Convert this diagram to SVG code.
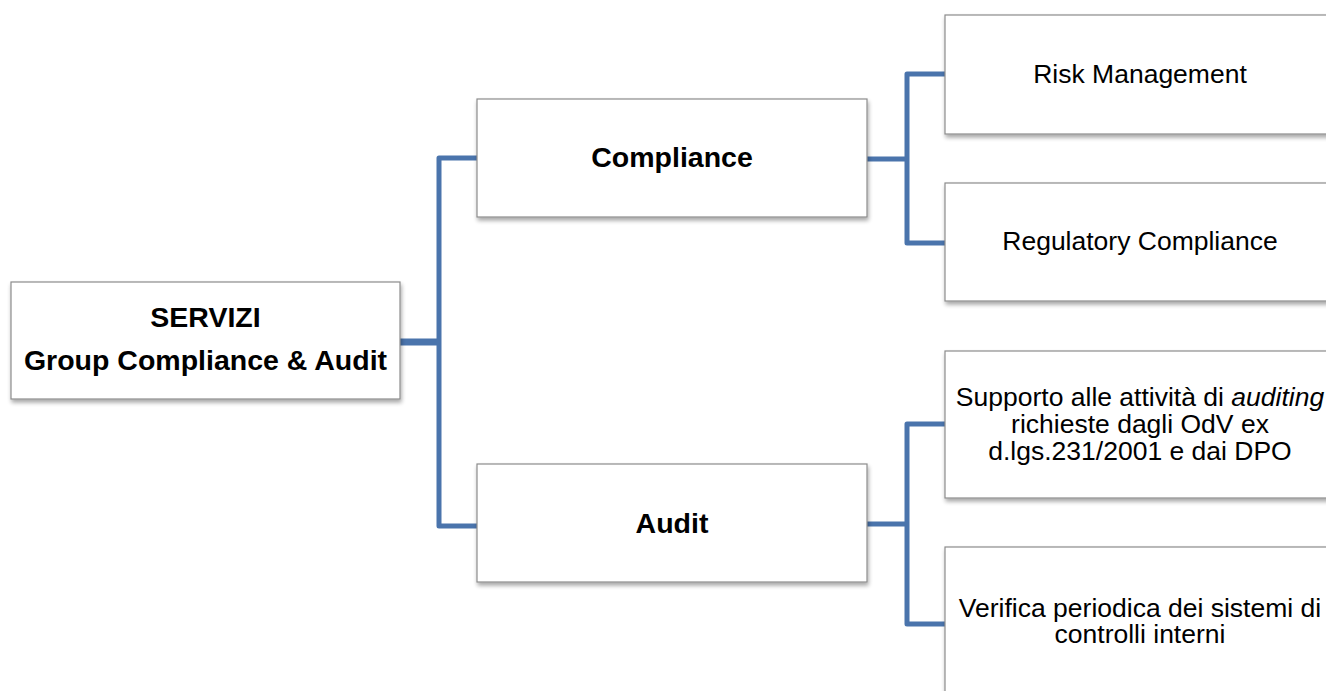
<svg xmlns="http://www.w3.org/2000/svg" width="1326" height="691" viewBox="0 0 1326 691">
  <style>
    .box { fill: #ffffff; stroke: #8c8c8c; stroke-width: 1.2; filter: url(#shadow); }
    .conn { fill: none; stroke: #4a74ac; stroke-width: 5; stroke-linejoin: round; stroke-linecap: butt; }
    .bold { font-family: "Liberation Sans", Arial, sans-serif; font-weight: bold; font-size: 28.5px; fill: #000; text-anchor: middle; }
    .reg { font-family: "Liberation Sans", Arial, sans-serif; font-size: 26.5px; fill: #000; text-anchor: middle; }
  </style>
  <defs>
    <filter id="shadow" x="-5%" y="-10%" width="115%" height="130%">
      <feGaussianBlur in="SourceAlpha" stdDeviation="2"/>
      <feOffset dx="1" dy="3" result="off"/>
      <feComponentTransfer><feFuncA type="linear" slope="0.35"/></feComponentTransfer>
      <feMerge><feMergeNode/><feMergeNode in="SourceGraphic"/></feMerge>
    </filter>
  </defs>
  <rect width="1326" height="691" fill="#ffffff"/>

  <g id="connectors">
    <path class="conn" d="M400 342 H440" style="stroke-width:7"/>
    <path class="conn" d="M477 158 H439 V526 H477"/>
    <path class="conn" d="M867 159 H907"/>
    <path class="conn" d="M945 74 H907 V243 H945"/>
    <path class="conn" d="M867 524 H907"/>
    <path class="conn" d="M945 424 H907 V624 H945"/>
  </g>

  <g id="node-servizi">
    <rect class="box" x="11" y="282" width="389" height="117"/>
    <text class="bold" x="205.5" y="327">SERVIZI</text>
    <text class="bold" x="205.5" y="370">Group Compliance &amp; Audit</text>
  </g>

  <g id="node-compliance">
    <rect class="box" x="477" y="99" width="390" height="118"/>
    <text class="bold" x="672" y="167">Compliance</text>
  </g>

  <g id="node-audit">
    <rect class="box" x="477" y="464" width="390" height="118"/>
    <text class="bold" x="672" y="533">Audit</text>
  </g>

  <g id="node-risk">
    <rect class="box" x="945" y="15" width="390" height="119"/>
    <text class="reg" x="1140" y="83">Risk Management</text>
  </g>

  <g id="node-regulatory">
    <rect class="box" x="945" y="183" width="390" height="118"/>
    <text class="reg" x="1140" y="250">Regulatory Compliance</text>
  </g>

  <g id="node-supporto">
    <rect class="box" x="945" y="351" width="390" height="147"/>
    <text class="reg" x="1140" y="406">Supporto alle attività di <tspan font-style="italic">auditing</tspan></text>
    <text class="reg" x="1140" y="433">richieste dagli OdV ex</text>
    <text class="reg" x="1140" y="460">d.lgs.231/2001 e dai DPO</text>
  </g>

  <g id="node-verifica">
    <rect class="box" x="945" y="547" width="390" height="160"/>
    <text class="reg" x="1140" y="617">Verifica periodica dei sistemi di</text>
    <text class="reg" x="1140" y="643">controlli interni</text>
  </g>
</svg>
